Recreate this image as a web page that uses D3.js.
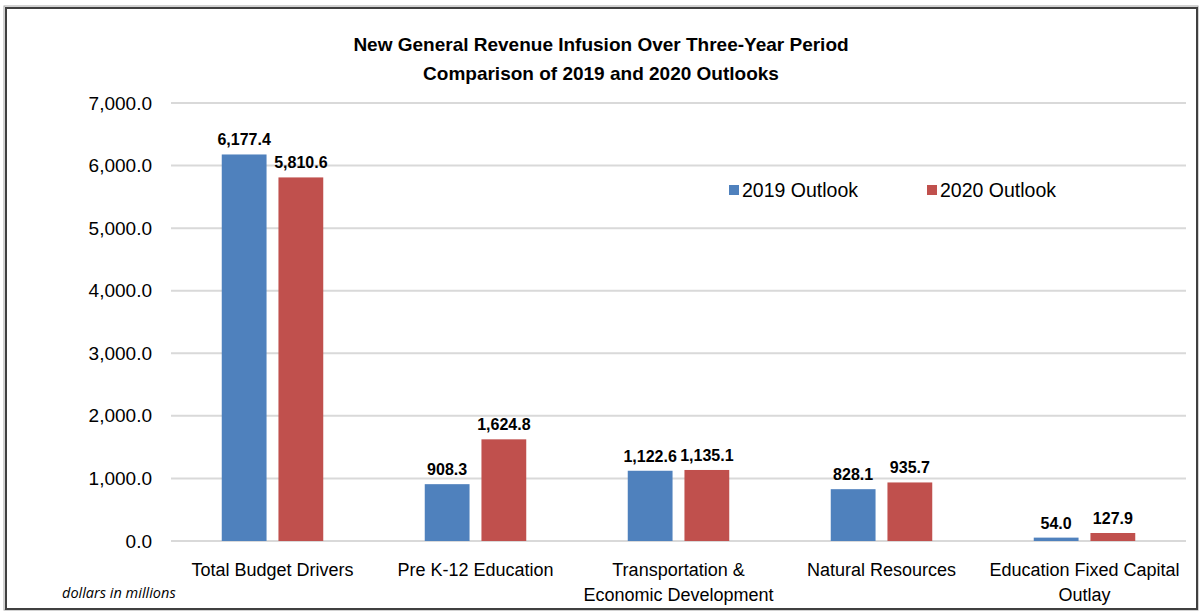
<!DOCTYPE html>
<html>
<head>
<meta charset="utf-8">
<script src="https://cdn.jsdelivr.net/npm/d3@7"></script>
<style>
  body { margin: 0; background: #fff; }
  svg { display: block; }
  .narrow { font-family: "Liberation Sans Narrow", "Arial Narrow", "Liberation Sans", sans-serif; }
</style>
</head>
<body>
<script>
var categories = [["Total Budget Drivers"], ["Pre K-12 Education"], ["Transportation &", "Economic Development"], ["Natural Resources"], ["Education Fixed Capital", "Outlay"]];
var seriesNames = ["2019 Outlook", "2020 Outlook"];
var values2019 = [6177.4, 908.3, 1122.6, 828.1, 54.0];
var values2020 = [5810.6, 1624.8, 1135.1, 935.7, 127.9];
var yTicks = [0, 1000, 2000, 3000, 4000, 5000, 6000, 7000];
var colors = ["#4f81bd", "#c0504d"];

var width = 1201, height = 612;
var margin = {left: 171, right: 15, top: 103, bottom: 71};

var svg = d3.select("body").append("svg")
    .attr("width", width)
    .attr("height", height);

// frame
svg.append("rect").attr("x", 4).attr("y", 6).attr("width", 1194).attr("height", 604)
    .attr("fill", "none").attr("stroke", "#a6a6a6").attr("stroke-width", 1);
svg.append("rect").attr("x", 6).attr("y", 8).attr("width", 1191).attr("height", 601)
    .attr("fill", "#fff").attr("stroke", "#404040").attr("stroke-width", 2);

var x0 = d3.scaleBand()
    .domain(d3.range(categories.length))
    .range([margin.left, width - margin.right])
    .paddingInner(0.5)
    .paddingOuter(0.25);

var x1 = d3.scaleBand()
    .domain([0, 1])
    .range([0, x0.bandwidth()])
    .paddingInner(0.21);

var y = d3.scaleLinear()
    .domain([0, 7000])
    .range([height - margin.bottom, margin.top]);

var fmt = d3.format(",.1f");

// gridlines
svg.append("g").selectAll("line")
    .data(yTicks)
    .enter().append("line")
    .attr("x1", margin.left)
    .attr("x2", width - margin.right)
    .attr("y1", function(d){ return y(d); })
    .attr("y2", function(d){ return y(d); })
    .attr("stroke", "#d9d9d9")
    .attr("stroke-width", 2);

// y axis labels
var yAxis = d3.axisLeft(y).tickValues(yTicks).tickFormat(fmt).tickSize(0).tickPadding(19);
var yg = svg.append("g")
    .attr("transform", "translate(" + margin.left + ",0)")
    .call(yAxis);
yg.select(".domain").remove();
yg.selectAll("text")
    .attr("class", "narrow")
    .attr("font-size", "19px")
    .attr("fill", "#000");

// bars
var groups = svg.append("g").selectAll("g")
    .data(categories)
    .enter().append("g")
    .attr("transform", function(d, i){ return "translate(" + x0(i) + ",0)"; });

groups.selectAll("rect")
    .data(function(d, i){ return [values2019[i], values2020[i]]; })
    .enter().append("rect")
    .attr("x", function(d, j){ return x1(j); })
    .attr("y", function(d){ return y(d); })
    .attr("width", x1.bandwidth())
    .attr("height", function(d){ return y(0) - y(d); })
    .attr("fill", function(d, j){ return colors[j]; });

groups.selectAll("text.val")
    .data(function(d, i){ return [values2019[i], values2020[i]]; })
    .enter().append("text")
    .attr("class", "val narrow")
    .attr("x", function(d, j){ return x1(j) + x1.bandwidth() / 2; })
    .attr("y", function(d){ return y(d) - 9; })
    .attr("text-anchor", "middle")
    .attr("font-size", "16px")
    .attr("font-weight", "bold")
    .text(function(d){ return fmt(d); });

// category labels
var catLabels = svg.append("g").selectAll("text")
    .data(categories)
    .enter().append("text")
    .attr("class", "narrow")
    .attr("x", function(d, i){ return x0(i) + x0.bandwidth() / 2; })
    .attr("y", y(0) + 35)
    .attr("text-anchor", "middle")
    .attr("font-size", "18px");
catLabels.selectAll("tspan")
    .data(function(d){ return d; })
    .enter().append("tspan")
    .attr("x", function(){ return d3.select(this.parentNode).attr("x"); })
    .attr("dy", function(d, i){ return i === 0 ? 0 : 25; })
    .text(function(d){ return d; });

// title
var title = svg.append("text")
    .attr("class", "narrow")
    .attr("text-anchor", "middle")
    .attr("font-size", "19px")
    .attr("font-weight", "bold");
title.append("tspan").attr("x", 601).attr("y", 51).text("New General Revenue Infusion Over Three-Year Period");
title.append("tspan").attr("x", 601).attr("y", 80).text("Comparison of 2019 and 2020 Outlooks");

// legend
var legendX = [729, 927];
var legend = svg.append("g").selectAll("g")
    .data(seriesNames)
    .enter().append("g")
    .attr("transform", function(d, i){ return "translate(" + legendX[i] + ",185)"; });
legend.append("rect")
    .attr("width", 10).attr("height", 10)
    .attr("fill", function(d, i){ return colors[i]; });
legend.append("text")
    .attr("class", "narrow")
    .attr("x", 13)
    .attr("y", 12)
    .attr("font-size", "19.5px")
    .text(function(d){ return d; });

// units note
svg.append("text")
    .attr("x", 62)
    .attr("y", 598)
    .attr("font-family", "'Open Sans', sans-serif")
    .attr("font-style", "italic")
    .attr("font-size", "14.5px")
    .text("dollars in millions");
</script>
</body>
</html>
